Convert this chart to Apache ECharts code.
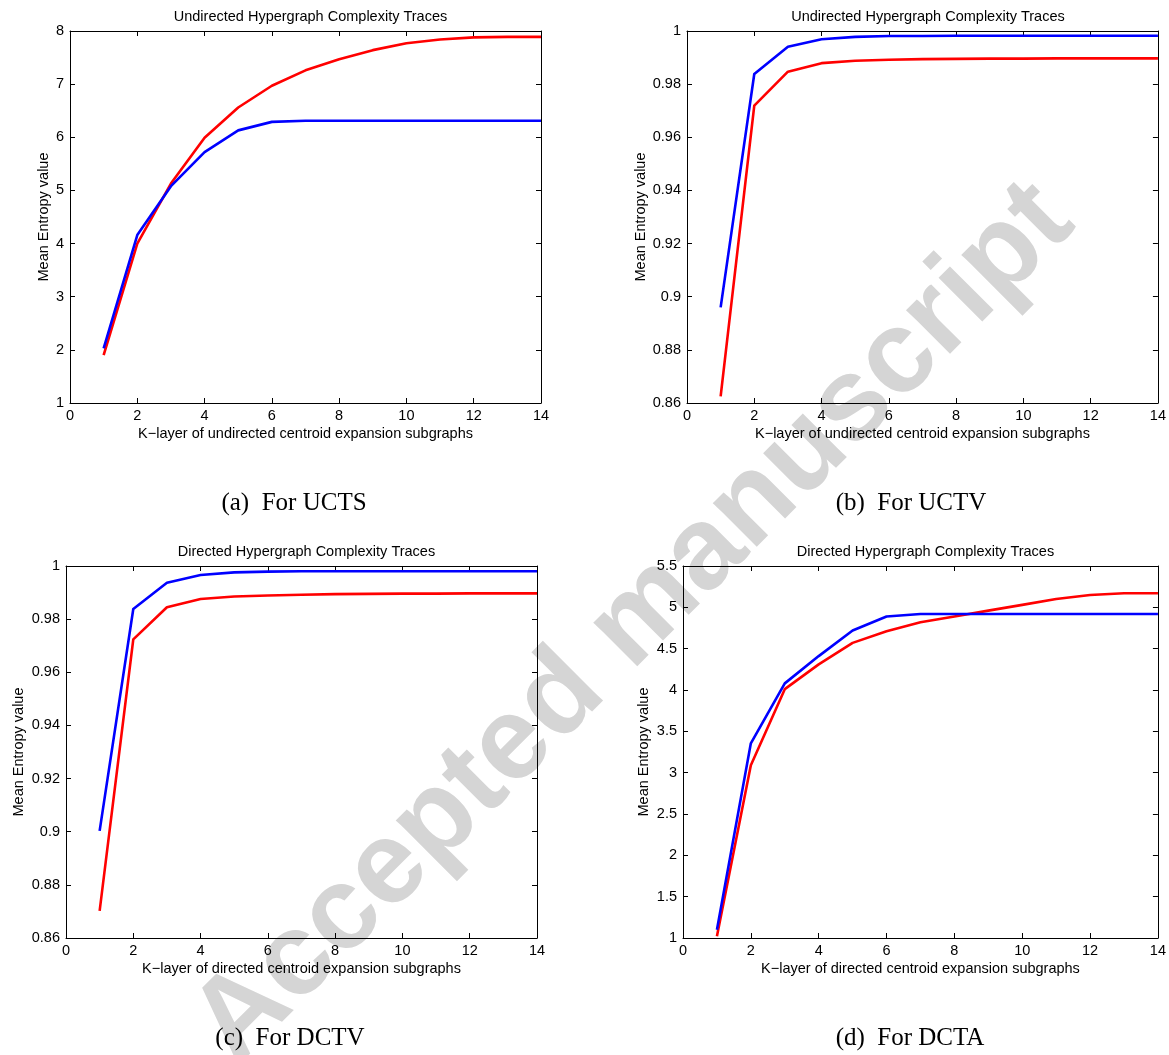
<!DOCTYPE html>
<html>
<head>
<meta charset="utf-8">
<script src="https://cdn.jsdelivr.net/npm/echarts@6/dist/echarts.min.js"></script>
<style>
html,body{margin:0;padding:0;background:#fff;}
#chart{width:1169px;height:1055px;}
</style>
</head>
<body>
<div id="chart"></div>
<script>
// ---- data ----
const kLayers = [1,2,3,4,5,6,7,8,9,10,11,12,13,14];
const xTicks = [0,2,4,6,8,10,12,14];

const titles = [
  "Undirected Hypergraph Complexity Traces",
  "Undirected Hypergraph Complexity Traces",
  "Directed Hypergraph Complexity Traces",
  "Directed Hypergraph Complexity Traces"
];
const xNames = [
  "K\u2212layer of undirected centroid expansion subgraphs",
  "K\u2212layer of undirected centroid expansion subgraphs",
  "K\u2212layer of directed centroid expansion subgraphs",
  "K\u2212layer of directed centroid expansion subgraphs"
];
const yName = "Mean Entropy value";
const captions = ["(a)  For UCTS", "(b)  For UCTV", "(c)  For DCTV", "(d)  For DCTA"];
const watermark = "Accepted manuscript";

// (a) UCTS
const uctsRed  = [1.90, 4.00, 5.13, 5.99, 6.56, 6.97, 7.26, 7.47, 7.64, 7.77, 7.84, 7.88, 7.89, 7.89];
const uctsBlue = [2.03, 4.16, 5.08, 5.72, 6.13, 6.29, 6.31, 6.31, 6.31, 6.31, 6.31, 6.31, 6.31, 6.31];
// (b) UCTV
const uctvRed  = [0.8625, 0.9719, 0.9847, 0.9879, 0.9888, 0.9892, 0.9894, 0.9895, 0.9896, 0.9896, 0.9897, 0.9897, 0.9897, 0.9897];
const uctvBlue = [0.8960, 0.9838, 0.9941, 0.9969, 0.9978, 0.9981, 0.9981, 0.9982, 0.9982, 0.9982, 0.9982, 0.9982, 0.9982, 0.9982];
// (c) DCTV
const dctvRed  = [0.8702, 0.9724, 0.9845, 0.9876, 0.9885, 0.9889, 0.9892, 0.9894, 0.9895, 0.9896, 0.9896, 0.9897, 0.9897, 0.9897];
const dctvBlue = [0.9003, 0.9838, 0.9937, 0.9966, 0.9976, 0.9979, 0.9980, 0.9980, 0.9980, 0.9980, 0.9980, 0.9980, 0.9980, 0.9980];
// (d) DCTA
const dctaRed  = [1.02, 3.09, 4.01, 4.31, 4.57, 4.71, 4.82, 4.89, 4.96, 5.03, 5.10, 5.15, 5.17, 5.17];
const dctaBlue = [1.10, 3.355, 4.08, 4.41, 4.72, 4.89, 4.92, 4.92, 4.92, 4.92, 4.92, 4.92, 4.92, 4.92];

const yRanges = [[1, 8, 1], [0.86, 1, 0.02], [0.86, 1, 0.02], [1, 5.5, 0.5]];
const seriesData = [[uctsRed, uctsBlue], [uctvRed, uctvBlue], [dctvRed, dctvBlue], [dctaRed, dctaBlue]];

// ---- layout ----
const grids = [
  {left: 70,  top: 31,  width: 471, height: 372},
  {left: 687, top: 31,  width: 472, height: 372},
  {left: 66,  top: 566, width: 471, height: 372},
  {left: 683, top: 566, width: 475, height: 372}
];
const yNameGaps = [19, 39, 40, 32];
const captionPos = [[294, 503], [911, 503], [290, 1038], [910, 1038]];

const SANS = "'Liberation Sans', Arial, Helvetica, sans-serif";
const SERIF = "'Liberation Serif', 'Times New Roman', serif";

const axisLine = {show: true, onZero: false, lineStyle: {color: '#000', width: 1}};
const axisTick = {show: true, inside: true, length: 5, lineStyle: {color: '#000', width: 1}};

const option = {
  backgroundColor: '#fff',
  animation: false,
  title: [], grid: [], xAxis: [], yAxis: [], series: [], graphic: []
};

grids.forEach((g, i) => {
  option.grid.push(Object.assign({containLabel: false}, g));
  option.title.push({
    text: titles[i],
    left: g.left + g.width / 2,
    top: g.top - 27,
    textAlign: 'center',
    textStyle: {fontFamily: SANS, fontSize: 14.5, fontWeight: 'normal', color: '#000'}
  });
  // bottom x axis
  option.xAxis.push({
    type: 'value', gridIndex: i, position: 'bottom', min: 0, max: 14, interval: 2,
    name: xNames[i], nameLocation: 'middle', nameGap: 23,
    nameTextStyle: {fontFamily: SANS, fontSize: 14.5, color: '#000'},
    axisLine: axisLine, axisTick: axisTick,
    axisLabel: {fontFamily: SANS, fontSize: 14.5, color: '#000', margin: 5},
    splitLine: {show: false}
  });
  // top x axis (frame)
  option.xAxis.push({
    type: 'value', gridIndex: i, position: 'top', min: 0, max: 14, interval: 2,
    axisLine: axisLine, axisTick: axisTick, axisLabel: {show: false}, splitLine: {show: false}
  });
  const r = yRanges[i];
  option.yAxis.push({
    type: 'value', gridIndex: i, position: 'left', min: r[0], max: r[1], interval: r[2],
    name: yName, nameLocation: 'middle', nameGap: yNameGaps[i], nameRotate: 90,
    nameTextStyle: {fontFamily: SANS, fontSize: 14.5, color: '#000'},
    axisLine: axisLine, axisTick: axisTick,
    axisLabel: {fontFamily: SANS, fontSize: 14.5, color: '#000', margin: 6},
    splitLine: {show: false}
  });
  option.yAxis.push({
    type: 'value', gridIndex: i, position: 'right', min: r[0], max: r[1], interval: r[2],
    axisLine: axisLine, axisTick: axisTick, axisLabel: {show: false}, splitLine: {show: false}
  });
  const colors = ['#ff0000', '#0000ff'];
  seriesData[i].forEach((vals, j) => {
    option.series.push({
      type: 'line', xAxisIndex: i * 2, yAxisIndex: i * 2,
      data: kLayers.map((k, idx) => [k, vals[idx]]),
      showSymbol: false, symbol: 'none', smooth: false,
      lineStyle: {color: colors[j], width: 2.6, cap: 'butt', join: 'round'},
      z: 3 + j
    });
  });
  option.graphic.push({
    type: 'text', x: captionPos[i][0], y: captionPos[i][1], z: 10,
    style: {text: captions[i], font: '25px ' + SERIF, fill: '#000', align: 'center', verticalAlign: 'middle'}
  });
});

// watermark behind everything
option.graphic.push({
  type: 'text', x: 634, y: 624, rotation: Math.PI / 4, z: -100,
  silent: true,
  style: {text: watermark, font: 'bold 117px ' + SANS, fill: '#d5d5d5', align: 'center', verticalAlign: 'middle'}
});

const chart = echarts.init(document.getElementById('chart'), null, {renderer: 'canvas'});
chart.setOption(option);
</script>
</body>
</html>
